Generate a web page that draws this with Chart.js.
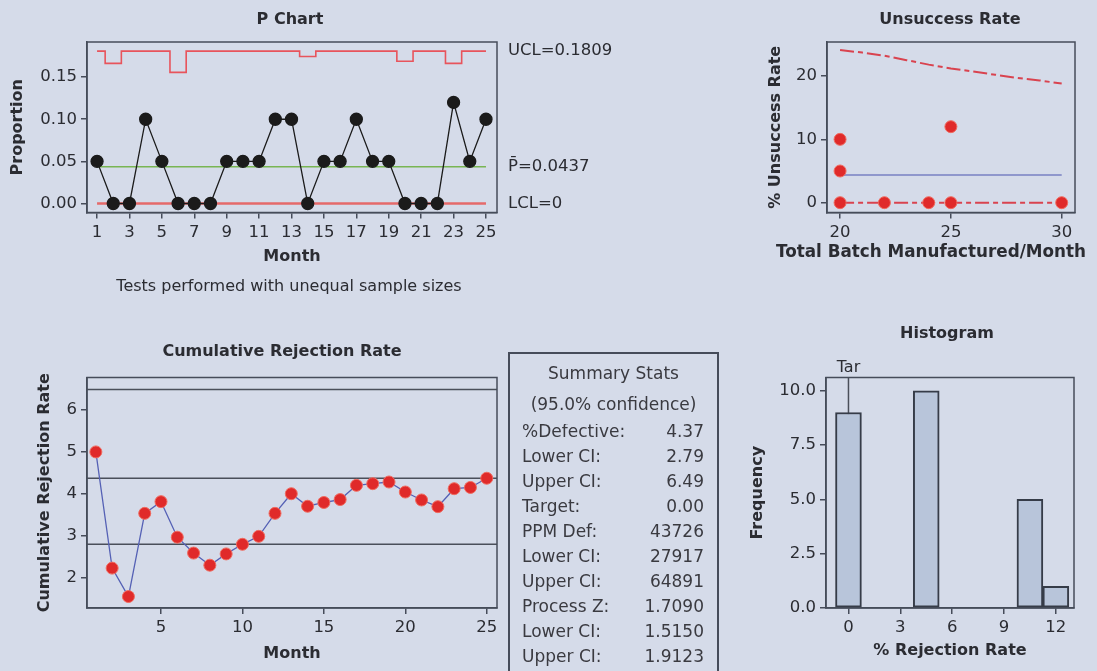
<!DOCTYPE html>
<html>
<head>
<meta charset="utf-8">
<script src="https://cdn.jsdelivr.net/npm/chart.js@4.4.1/dist/chart.umd.min.js"></script>
<style>
  body { margin: 0; width: 1097px; height: 671px; overflow: hidden; position: relative; background: #d5dbe9; font-family: 'DejaVu Sans', Verdana, sans-serif; }
  canvas { position: absolute; }
  #stats { position: absolute; left: 508px; top: 352px; width: 211px; height: 340px; box-sizing: border-box; border: 2px solid #464c5a; border-bottom: none; color: #3a3a40; font-size: 17px; }
  #stats .head { position: absolute; left: 0; right: 0; text-align: center; line-height: 25px; }
  #stats .row { position: absolute; left: 12px; right: 13px; line-height: 25px; display: flex; justify-content: space-between; }
</style>
</head>
<body>
<canvas id="pChart" width="640" height="300" style="left:0;top:0"></canvas>
<canvas id="rateChart" width="357" height="300" style="left:740px;top:0"></canvas>
<canvas id="cumChart" width="510" height="341" style="left:0;top:330px"></canvas>
<canvas id="histChart" width="357" height="361" style="left:740px;top:310px"></canvas>
<div id="stats"></div>
<script>
// ---- P chart ----
const months = [1, 2, 3, 4, 5, 6, 7, 8, 9, 10, 11, 12, 13, 14, 15, 16, 17, 18, 19, 20, 21, 22, 23, 24, 25];
const proportion = [0.05, 0, 0, 0.10, 0.05, 0, 0, 0, 0.05, 0.05, 0.05, 0.10, 0.10, 0, 0.05, 0.05, 0.10, 0.05, 0.05, 0, 0, 0, 0.12, 0.05, 0.10];
const ucl = [0.1809, 0.1663, 0.1809, 0.1809, 0.1809, 0.1557, 0.1809, 0.1809, 0.1809, 0.1809, 0.1809, 0.1809, 0.1809,
             0.1745, 0.1809, 0.1809, 0.1809, 0.1809, 0.1809, 0.1689, 0.1809, 0.1809, 0.1663, 0.1809, 0.1809];
const pBar = 0.0437;
const lcl = 0;
const uclLabel = 0.1809;
const pTicksX = [1, 3, 5, 7, 9, 11, 13, 15, 17, 19, 21, 23, 25];
const pTicksY = [0, 0.05, 0.10, 0.15];

// ---- Unsuccess rate vs batch size ----
const batchSize = [20, 20, 20, 22, 24, 25, 25, 30];
const unsuccessPct = [10, 5, 0, 0, 0, 12, 0, 0];
const limitBatch = [20, 21, 22, 23, 24, 25, 26, 27, 28, 29, 30];
const upperPct = [24.1, 23.7, 23.2, 22.5, 21.8, 21.2, 20.7, 20.2, 19.7, 19.3, 18.8];
const lowerPct = [0, 0, 0, 0, 0, 0, 0, 0, 0, 0, 0];
const centerPct = 4.37;
const rateTicksX = [20, 25, 30];
const rateTicksY = [0, 10, 20];

// ---- Cumulative rejection rate ----
const cumRate = [5.0, 2.22, 1.54, 3.53, 3.81, 2.96, 2.58, 2.29, 2.56, 2.79, 2.98, 3.53, 4.0, 3.70, 3.79, 3.86, 4.2, 4.24, 4.28, 4.04, 3.85, 3.69, 4.12, 4.15, 4.37];
const ciLines = [6.49, 4.37, 2.79];
const cumTicksX = [5, 10, 15, 20, 25];
const cumTicksY = [2, 3, 4, 5, 6];

// ---- Histogram ----
const binMid = [0, 4.5, 10.5, 12];
const binCount = [9, 10, 5, 1];
const target = 0;
const histTicksX = [0, 3, 6, 9, 12];
const histTicksY = [0, 2.5, 5, 7.5, 10];

// ---- Summary stats ----
const statLabels = ["%Defective:", "Lower CI:", "Upper CI:", "Target:", "PPM Def:", "Lower CI:", "Upper CI:", "Process Z:", "Lower CI:", "Upper CI:"];
const statValues = ["4.37", "2.79", "6.49", "0.00", "43726", "27917", "64891", "1.7090", "1.5150", "1.9123"];

const AXIS = "#464c5a";
const TXT = "#2b2c32";
const FONT = "'DejaVu Sans', Verdana, sans-serif";
Chart.defaults.font.family = FONT;
Chart.defaults.font.size = 16;
Chart.defaults.color = TXT;
Chart.defaults.animation = false;

function scale(o) {
  return {
    type: "linear", position: o.pos, min: o.min, max: o.max, offset: false,
    afterBuildTicks: s => { s.ticks = o.ticks.map(v => ({ value: v })); },
    afterFit: s => { if (o.pos === "left") s.width = o.size; else s.height = o.size; },
    grid: { drawOnChartArea: false, drawTicks: true, tickLength: 6, color: AXIS, lineWidth: 1.5, offset: false },
    border: { display: true, color: AXIS, width: 1.5 },
    ticks: { padding: 4, color: TXT, font: { size: 16.5 }, callback: v => o.fmt ? o.fmt(v) : v },
    title: { display: !!o.title, text: o.title, color: TXT, font: { size: 16, weight: "bold" }, padding: { top: o.tpad || 0, bottom: 0 } }
  };
}

const frame = {
  id: "frame",
  afterDatasetsDraw(chart) {
    const a = chart.chartArea, ctx = chart.ctx;
    ctx.save();
    ctx.strokeStyle = AXIS; ctx.lineWidth = 1.5;
    ctx.strokeRect(a.left, a.top, a.right - a.left, a.bottom - a.top);
    ctx.restore();
  }
};

function panelText(items) {
  return {
    id: "panelText",
    afterDraw(chart) {
      const a = chart.chartArea, ctx = chart.ctx;
      items.forEach(it => {
        ctx.save();
        ctx.font = (it.bold ? "bold " : "") + (it.size || 16) + "px " + FONT;
        ctx.fillStyle = TXT; ctx.textAlign = "center"; ctx.textBaseline = "middle";
        ctx.fillText(it.text, (a.left + a.right) / 2 + (it.dx || 0), it.y);
        ctx.restore();
      });
    }
  };
}

const xy = (xs, ys) => xs.map((x, i) => ({ x: x, y: ys[i] }));
const flat = (xs, v) => xs.map(x => ({ x: x, y: v }));

// P chart
const limitLabels = {
  id: "limitLabels",
  afterDraw(chart) {
    const ctx = chart.ctx, y = chart.scales.y, a = chart.chartArea;
    ctx.save();
    ctx.font = "16.5px " + FONT; ctx.fillStyle = TXT; ctx.textAlign = "left"; ctx.textBaseline = "middle";
    ctx.fillText("UCL=" + uclLabel.toFixed(4), a.right + 11, y.getPixelForValue(uclLabel));
    ctx.fillText("P\u0304=" + pBar.toFixed(4), a.right + 11, y.getPixelForValue(pBar));
    ctx.fillText("LCL=" + lcl, a.right + 11, y.getPixelForValue(lcl));
    ctx.restore();
  }
};

new Chart(document.getElementById("pChart"), {
  type: "line",
  data: {
    datasets: [
      { data: xy(months, proportion), borderColor: "#1b1b1b", borderWidth: 1.3, pointRadius: 6, pointBackgroundColor: "#1b1b1b", pointBorderColor: "#1b1b1b", order: 0 },
      { data: xy(months, ucl), borderColor: "#e8545c", borderWidth: 1.6, stepped: "middle", pointRadius: 0, order: 1 },
      { data: flat(months, pBar), borderColor: "#79b553", borderWidth: 1.5, pointRadius: 0, order: 2 },
      { data: flat(months, lcl), borderColor: "#e56a6a", borderWidth: 2.5, pointRadius: 0, order: 3 }
    ]
  },
  options: {
    responsive: false,
    layout: { padding: { left: 0, top: 42, right: 143, bottom: 33.5 } },
    plugins: { legend: { display: false }, tooltip: { enabled: false } },
    scales: {
      x: scale({ pos: "bottom", min: 0.38, max: 25.68, ticks: pTicksX, size: 54, title: "Month", tpad: 6 }),
      y: scale({ pos: "left", min: -0.0107, max: 0.1917, ticks: pTicksY, size: 87, title: "Proportion", tpad: 8.4, fmt: v => v.toFixed(2) })
    }
  },
  plugins: [frame, limitLabels, panelText([
    { text: "P Chart", y: 20, dx: -2, bold: true },
    { text: "Tests performed with unequal sample sizes", y: 287, dx: -3 }
  ])]
});

// Unsuccess rate
new Chart(document.getElementById("rateChart"), {
  type: "line",
  data: {
    datasets: [
      { data: xy(batchSize, unsuccessPct), showLine: false, pointRadius: 6, pointBackgroundColor: "#e02a2a", pointBorderColor: "#ef6a5e", pointBorderWidth: 1, order: 0 },
      { data: xy(limitBatch, upperPct), borderColor: "#d9434f", borderWidth: 2, borderDash: [14, 4, 5, 4], pointRadius: 0, order: 1 },
      { data: xy(limitBatch, lowerPct), borderColor: "#d9434f", borderWidth: 2, borderDash: [14, 4, 5, 4], pointRadius: 0, order: 2 },
      { data: flat(limitBatch, centerPct), borderColor: "#4a55b0", borderWidth: 1.2, pointRadius: 0, order: 3 }
    ]
  },
  options: {
    responsive: false,
    layout: { padding: { left: 0, top: 42, right: 22, bottom: 37.5 } },
    plugins: { legend: { display: false }, tooltip: { enabled: false } },
    scales: {
      x: scale({ pos: "bottom", min: 19.41, max: 30.6, ticks: rateTicksX, size: 50 }),
      y: scale({ pos: "left", min: -1.55, max: 25.37, ticks: rateTicksY, size: 87, title: "% Unsuccess Rate", tpad: 26.4 })
    }
  },
  plugins: [frame, panelText([
    { text: "Unsuccess Rate", y: 20, dx: -1, bold: true },
    { text: "Total Batch Manufactured/Month", y: 253, dx: -20, bold: true, size: 16.8 }
  ])]
});

// Cumulative rejection rate
const ciPlugin = {
  id: "ciLines",
  beforeDatasetsDraw(chart) {
    const ctx = chart.ctx, y = chart.scales.y, a = chart.chartArea;
    ctx.save();
    ctx.strokeStyle = "#4a4f5a"; ctx.lineWidth = 1.5;
    ciLines.forEach(v => {
      const py = y.getPixelForValue(v);
      ctx.beginPath(); ctx.moveTo(a.left, py); ctx.lineTo(a.right, py); ctx.stroke();
    });
    ctx.restore();
  }
};

new Chart(document.getElementById("cumChart"), {
  type: "line",
  data: {
    datasets: [
      { data: xy(months, cumRate), borderColor: "#5561b5", borderWidth: 1.3, pointRadius: 6, pointBackgroundColor: "#e02a2a", pointBorderColor: "#ef6a5e", pointBorderWidth: 1 }
    ]
  },
  options: {
    responsive: false,
    layout: { padding: { left: 0, top: 47.5, right: 13, bottom: 8 } },
    plugins: { legend: { display: false }, tooltip: { enabled: false } },
    scales: {
      x: scale({ pos: "bottom", min: 0.456, max: 25.63, ticks: cumTicksX, size: 55, title: "Month", tpad: 6 }),
      y: scale({ pos: "left", min: 1.266, max: 6.78, ticks: cumTicksY, size: 87, title: "Cumulative Rejection Rate", tpad: 35.4 })
    }
  },
  plugins: [frame, ciPlugin, panelText([
    { text: "Cumulative Rejection Rate", y: 22, dx: -10, bold: true }
  ])]
});

// Histogram
const targetPlugin = {
  id: "targetLine",
  beforeDatasetsDraw(chart) {
    const ctx = chart.ctx, x = chart.scales.x, a = chart.chartArea;
    const px = x.getPixelForValue(target);
    ctx.save();
    ctx.strokeStyle = "#4a4f5a"; ctx.lineWidth = 1.5;
    ctx.beginPath(); ctx.moveTo(px, a.top); ctx.lineTo(px, a.bottom); ctx.stroke();
    ctx.font = "16px " + FONT; ctx.fillStyle = TXT; ctx.textAlign = "center"; ctx.textBaseline = "middle";
    ctx.fillText("Tar", px, a.top - 10);
    ctx.restore();
  }
};

new Chart(document.getElementById("histChart"), {
  type: "bar",
  data: {
    datasets: [
      { data: xy(binMid, binCount), backgroundColor: "#b8c5da", borderColor: "#363c48", borderWidth: 2, borderSkipped: false, barPercentage: 1, categoryPercentage: 1 }
    ]
  },
  options: {
    responsive: false,
    layout: { padding: { left: 0, top: 67.5, right: 23, bottom: 11 } },
    plugins: { legend: { display: false }, tooltip: { enabled: false } },
    scales: {
      x: scale({ pos: "bottom", min: -1.3, max: 13.05, ticks: histTicksX, size: 52, title: "% Rejection Rate", tpad: 3 }),
      y: scale({ pos: "left", min: 0, max: 10.61, ticks: histTicksY, size: 86, title: "Frequency", tpad: 8.4, fmt: v => v.toFixed(1) })
    }
  },
  plugins: [frame, targetPlugin, panelText([
    { text: "Histogram", y: 24, dx: -3, bold: true }
  ])]
});

// Summary stats box
const stats = document.getElementById("stats");
stats.innerHTML =
  '<div class="head" style="top:6.5px">Summary Stats</div>' +
  '<div class="head" style="top:37.8px">(95.0% confidence)</div>' +
  statLabels.map((l, i) =>
    '<div class="row" style="top:' + (65 + i * 25) + 'px' + (i === 0 ? ';clip-path:inset(5px 0 0 0)' : '') + '"><span>' + l + '</span><span>' + statValues[i] + '</span></div>'
  ).join("");
</script>
</body>
</html>
